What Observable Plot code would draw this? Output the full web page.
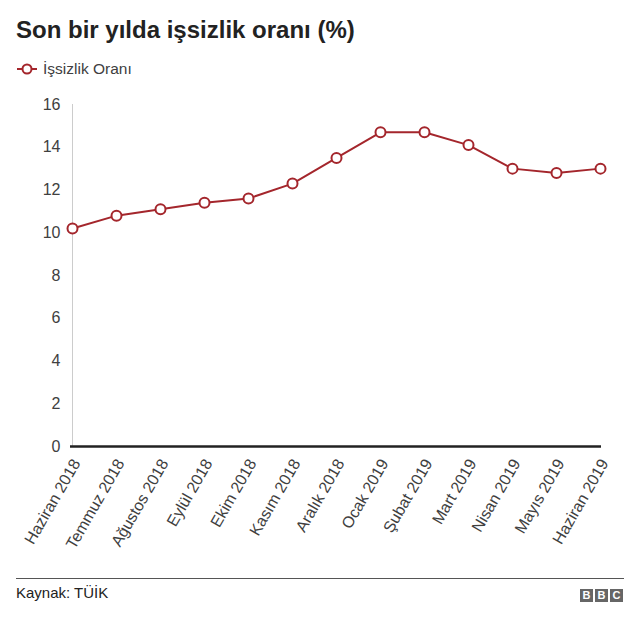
<!DOCTYPE html>
<html><head><meta charset="utf-8">
<script src="https://cdn.jsdelivr.net/npm/d3@7"></script>
<script src="https://cdn.jsdelivr.net/npm/@observablehq/plot@0.6"></script>
<style>
body{margin:0;background:#fff;font-family:"Liberation Sans",Arial,sans-serif;}
#wrap{position:relative;width:640px;height:623px;}
#title{position:absolute;left:16px;top:16px;font-size:24px;font-weight:bold;color:#222;}
#legend{position:absolute;left:16px;top:60px;font-size:15.5px;color:#404040;display:flex;align-items:center;}
#chart{position:absolute;left:0;top:90px;}
#foot{position:absolute;left:16px;top:578px;width:608px;border-top:1px solid #555;}
#src{position:absolute;left:16px;top:584px;font-size:15px;color:#222;}
#bbc{position:absolute;left:580px;top:589px;display:flex;gap:2px;}
#bbc span{display:inline-block;width:13px;height:13px;background:#666;color:#fff;font-size:11px;font-weight:bold;text-align:center;line-height:13px;}
</style></head><body>
<div id="wrap">
<div id="title">Son bir yılda işsizlik oranı (%)</div>
<div id="legend"><svg width="22" height="14"><line x1="1" y1="7" x2="21" y2="7" stroke="#a4262c" stroke-width="2"/><circle cx="11" cy="7" r="4.5" fill="#fff" stroke="#a4262c" stroke-width="2"/></svg><span style="margin-left:5px">İşsizlik Oranı</span></div>
<div id="chart"></div>
<div id="foot"></div>
<div id="src">Kaynak: TÜİK</div>
<div id="bbc"><span>B</span><span>B</span><span>C</span></div>
</div>
<script>
const months = ["Haziran 2018","Temmuz 2018","Ağustos 2018","Eylül 2018","Ekim 2018","Kasım 2018","Aralık 2018","Ocak 2019","Şubat 2019","Mart 2019","Nisan 2019","Mayıs 2019","Haziran 2019"];
const rates = [10.2,10.8,11.1,11.4,11.6,12.3,13.5,14.7,14.7,14.1,13.0,12.8,13.0];
const yTicks = [0,2,4,6,8,10,12,14,16];
const data = months.map((m,i)=>({month:m, rate:rates[i]}));
const color = "#a4262c";
const chart = Plot.plot({
  width:640, height:480,
  marginTop:14, marginBottom:124, marginLeft:70, marginRight:39,
  style:{fontFamily:"Liberation Sans, Arial, sans-serif", fontSize:"16px", color:"#404040", background:"#fff"},
  x:{type:"point", domain:months, padding:0, label:null},
  y:{domain:[0,16], label:null},
  marks:[
    Plot.axisY({ticks:yTicks, tickSize:0, tickPadding:10, fontSize:16, label:null}),
    Plot.axisX({tickSize:0, tickRotate:-60, tickPadding:14, dx:4, fontSize:16, label:null}),
    Plot.ruleX([0],{x:()=>months[0], y1:0, y2:16, stroke:"#ccc", strokeWidth:1}),
    Plot.ruleY([0],{stroke:"#222", strokeWidth:2.5}),
    Plot.line(data,{x:"month", y:"rate", stroke:color, strokeWidth:2}),
    Plot.dot(data,{x:"month", y:"rate", r:5, fill:"#fff", stroke:color, strokeWidth:2})
  ]
});
document.getElementById("chart").appendChild(chart);
</script>
</body></html>
